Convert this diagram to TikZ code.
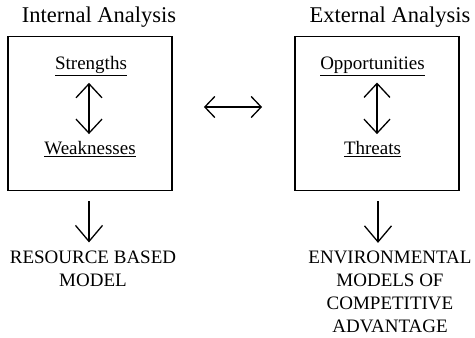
\documentclass[tikz,border=0pt]{standalone}
\usepackage{fontspec}
\setmainfont{Liberation Serif}
\usetikzlibrary{arrows.meta}
\begin{document}
\begin{tikzpicture}[x=1pt,y=-1pt,
  box/.style={draw,line width=1.8pt,minimum width=164pt,minimum height=154pt},
  title/.style={font=\fontsize{22.5}{24}\selectfont,inner sep=0pt},
  lbl/.style={font=\fontsize{19}{23}\selectfont,inner sep=0pt,align=center},
  dbl/.style={line width=1.3pt,{Straight Barb[length=14pt,width=26pt,line width=1.3pt]}-{Straight Barb[length=14pt,width=26pt,line width=1.3pt]}},
  hdbl/.style={line width=1.3pt,{Straight Barb[length=10pt,width=21pt,line width=1.3pt]}-{Straight Barb[length=10pt,width=21pt,line width=1.3pt]}},
  down/.style={line width=1.3pt,-{Straight Barb[length=16pt,width=27pt,line width=1.3pt]}}]
\useasboundingbox (0,0) rectangle (475,338);
\node[title] (ti) at (99,17) {Internal Analysis};
\node[title] (te) at (390,17) {External Analysis};
\node[box] (lb) at (90,113.5) {};
\node[box] (rb) at (377,113.5) {};
\node[lbl] (s) at (91,66) {\underline{Strengths}};
\node[lbl] (w) at (90,149) {\underline{Weaknesses}};
\node[lbl] (o) at (372.5,66) {\underline{Opportunities}};
\node[lbl] (t) at (372.5,149) {\underline{Threats}};
\draw[dbl,shorten <=7pt,shorten >=7pt] ([xshift=-2pt]s.south) -- ([xshift=-2pt]s.south |- w.north);
\draw[dbl,shorten <=7pt,shorten >=7pt] ([xshift=4.5pt]o.south) -- ([xshift=4.5pt]o.south |- t.north);
\draw[hdbl,shorten <=31pt,shorten >=32pt] ([yshift=6.5pt]lb.east) -- ([yshift=6.5pt]rb.west);
\node[lbl] (rm) at (93,268.5) {RESOURCE BASED\\MODEL};
\node[lbl] (em) at (390,292) {ENVIRONMENTAL\\MODELS OF\\COMPETITIVE\\ADVANTAGE};
\draw[down,shorten <=10pt,shorten >=8pt] ([xshift=-1pt]lb.south) -- ([xshift=-1pt]lb.south |- rm.north);
\draw[down,shorten <=10pt,shorten >=8pt] ([xshift=1pt]rb.south) -- ([xshift=1pt]rb.south |- em.north);
\end{tikzpicture}
\end{document}
